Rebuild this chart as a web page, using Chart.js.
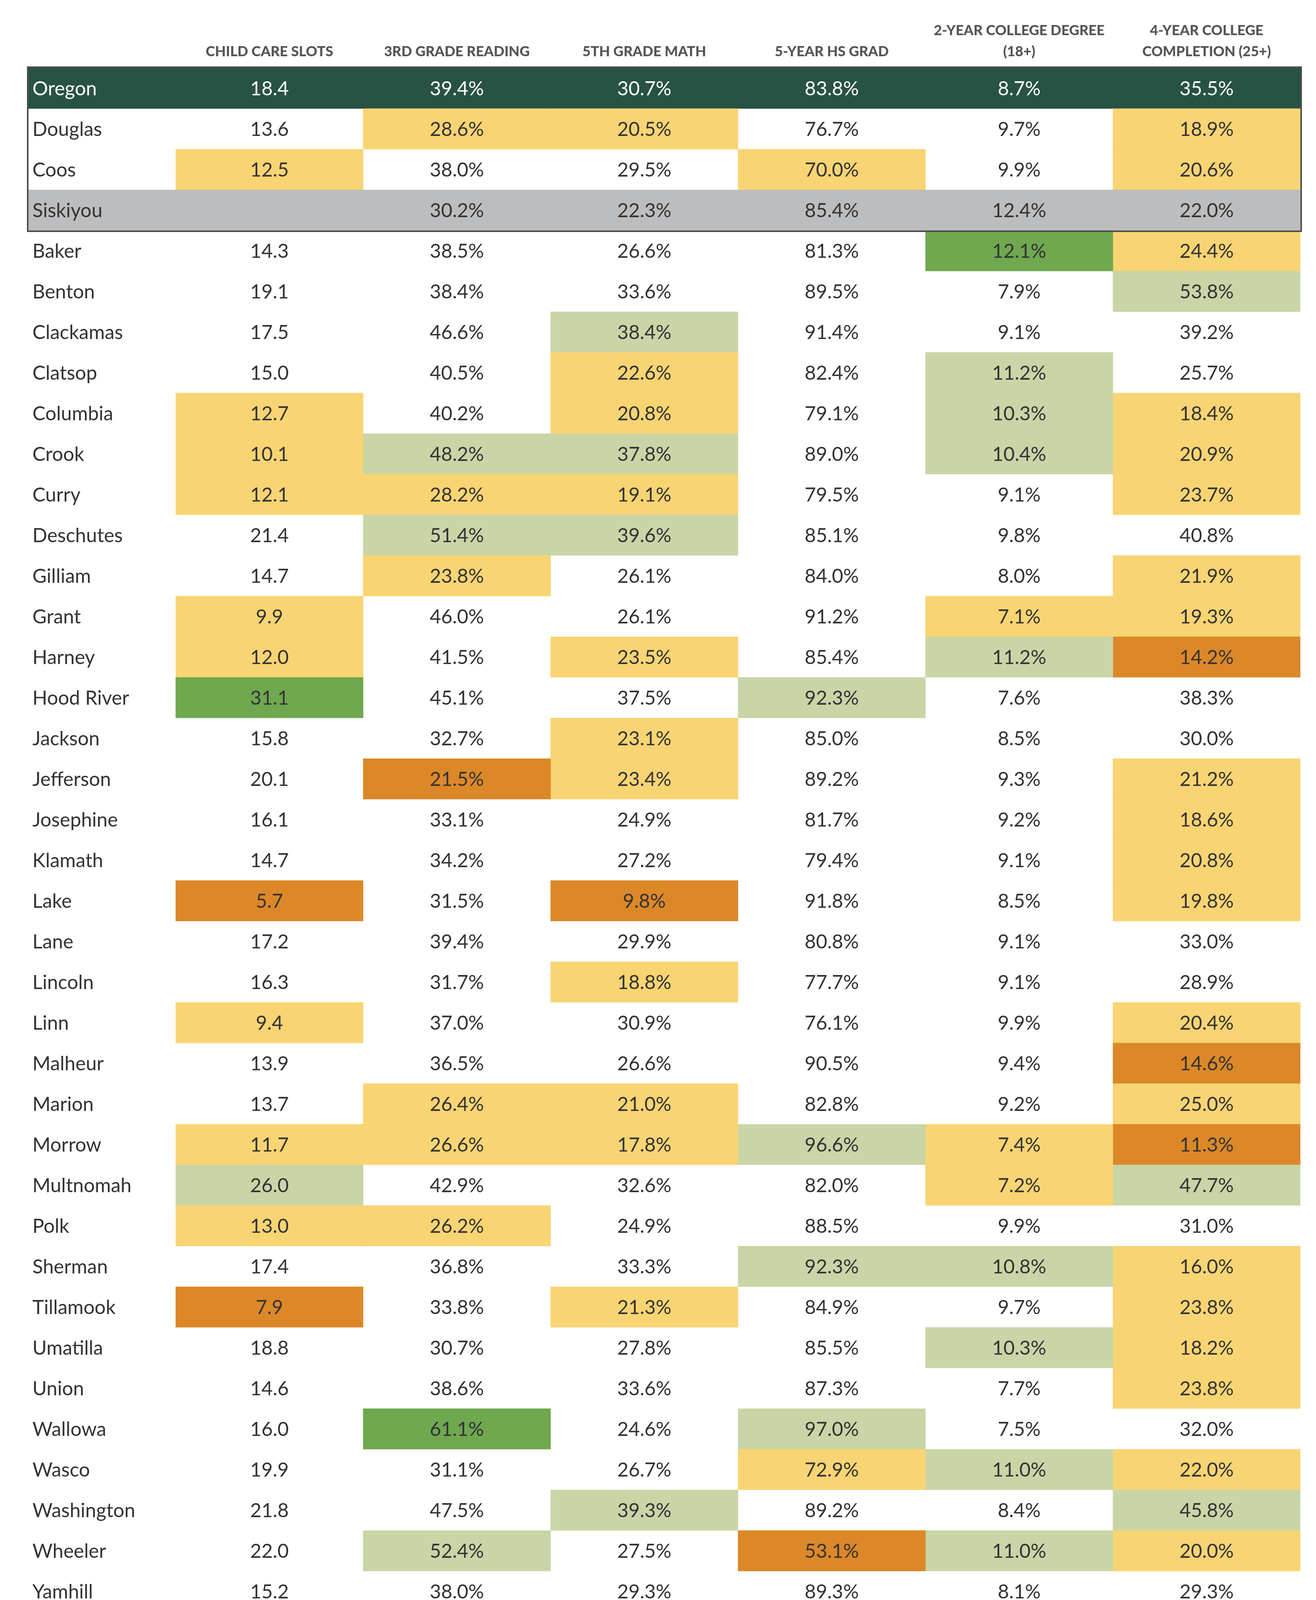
<!DOCTYPE html>
<html>
<head>
<meta charset="utf-8">
<script src="https://cdn.jsdelivr.net/npm/chart.js@4.4.1/dist/chart.umd.min.js"></script>
<style>
  html, body { margin: 0; padding: 0; background: #ffffff; }
  canvas { display: block; }
</style>
</head>
<body>
<canvas id="c" width="3370" height="4170" style="width:3370px;height:4170px"></canvas>
<script>
// ---------------- DATA ----------------
const counties = [
  'Oregon', 'Douglas', 'Coos', 'Siskiyou',
  'Baker', 'Benton', 'Clackamas', 'Clatsop', 'Columbia', 'Crook', 'Curry', 'Deschutes', 'Gilliam', 'Grant',
  'Harney', 'Hood River', 'Jackson', 'Jefferson', 'Josephine', 'Klamath', 'Lake', 'Lane', 'Lincoln', 'Linn',
  'Malheur', 'Marion', 'Morrow', 'Multnomah', 'Polk', 'Sherman', 'Tillamook', 'Umatilla', 'Union', 'Wallowa',
  'Wasco', 'Washington', 'Wheeler', 'Yamhill'
];

const columnTitles = [
  ['CHILD CARE SLOTS'],
  ['3RD GRADE READING'],
  ['5TH GRADE MATH'],
  ['5-YEAR HS GRAD'],
  ['2-YEAR COLLEGE DEGREE', '(18+)'],
  ['4-YEAR COLLEGE', 'COMPLETION (25+)']
];

const childCare = [
  18.4, 13.6, 12.5, null,
  14.3, 19.1, 17.5, 15.0, 12.7, 10.1, 12.1, 21.4, 14.7, 9.9,
  12.0, 31.1, 15.8, 20.1, 16.1, 14.7, 5.7, 17.2, 16.3, 9.4,
  13.9, 13.7, 11.7, 26.0, 13.0, 17.4, 7.9, 18.8, 14.6, 16.0,
  19.9, 21.8, 22.0, 15.2
];
const reading3 = [
  39.4, 28.6, 38.0, 30.2,
  38.5, 38.4, 46.6, 40.5, 40.2, 48.2, 28.2, 51.4, 23.8, 46.0,
  41.5, 45.1, 32.7, 21.5, 33.1, 34.2, 31.5, 39.4, 31.7, 37.0,
  36.5, 26.4, 26.6, 42.9, 26.2, 36.8, 33.8, 30.7, 38.6, 61.1,
  31.1, 47.5, 52.4, 38.0
];
const math5 = [
  30.7, 20.5, 29.5, 22.3,
  26.6, 33.6, 38.4, 22.6, 20.8, 37.8, 19.1, 39.6, 26.1, 26.1,
  23.5, 37.5, 23.1, 23.4, 24.9, 27.2, 9.8, 29.9, 18.8, 30.9,
  26.6, 21.0, 17.8, 32.6, 24.9, 33.3, 21.3, 27.8, 33.6, 24.6,
  26.7, 39.3, 27.5, 29.3
];
const hsGrad = [
  83.8, 76.7, 70.0, 85.4,
  81.3, 89.5, 91.4, 82.4, 79.1, 89.0, 79.5, 85.1, 84.0, 91.2,
  85.4, 92.3, 85.0, 89.2, 81.7, 79.4, 91.8, 80.8, 77.7, 76.1,
  90.5, 82.8, 96.6, 82.0, 88.5, 92.3, 84.9, 85.5, 87.3, 97.0,
  72.9, 89.2, 53.1, 89.3
];
const college2 = [
  8.7, 9.7, 9.9, 12.4,
  12.1, 7.9, 9.1, 11.2, 10.3, 10.4, 9.1, 9.8, 8.0, 7.1,
  11.2, 7.6, 8.5, 9.3, 9.2, 9.1, 8.5, 9.1, 9.1, 9.9,
  9.4, 9.2, 7.4, 7.2, 9.9, 10.8, 9.7, 10.3, 7.7, 7.5,
  11.0, 8.4, 11.0, 8.1
];
const college4 = [
  35.5, 18.9, 20.6, 22.0,
  24.4, 53.8, 39.2, 25.7, 18.4, 20.9, 23.7, 40.8, 21.9, 19.3,
  14.2, 38.3, 30.0, 21.2, 18.6, 20.8, 19.8, 33.0, 28.9, 20.4,
  14.6, 25.0, 11.3, 47.7, 31.0, 16.0, 23.8, 18.2, 23.8, 32.0,
  22.0, 45.8, 20.0, 29.3
];

// colour tiers: Y = below, O = far below, L = above, G = far above, - = none
const childCareTier = [
  '-','-','Y','-',
  '-','-','-','-','Y','Y','Y','-','-','Y',
  'Y','G','-','-','-','-','O','-','-','Y',
  '-','-','Y','L','Y','-','O','-','-','-',
  '-','-','-','-'
];
const reading3Tier = [
  '-','Y','-','-',
  '-','-','-','-','-','L','Y','L','Y','-',
  '-','-','-','O','-','-','-','-','-','-',
  '-','Y','Y','-','Y','-','-','-','-','G',
  '-','-','L','-'
];
const math5Tier = [
  '-','Y','-','-',
  '-','-','L','Y','Y','L','Y','L','-','-',
  'Y','-','Y','Y','-','-','O','-','Y','-',
  '-','Y','Y','-','-','-','Y','-','-','-',
  '-','L','-','-'
];
const hsGradTier = [
  '-','-','Y','-',
  '-','-','-','-','-','-','-','-','-','-',
  '-','L','-','-','-','-','-','-','-','-',
  '-','-','L','-','-','L','-','-','-','L',
  'Y','-','O','-'
];
const college2Tier = [
  '-','-','-','-',
  'G','-','-','L','L','L','-','-','-','Y',
  'L','-','-','-','-','-','-','-','-','-',
  '-','-','Y','Y','-','L','-','L','-','-',
  'L','-','L','-'
];
const college4Tier = [
  '-','Y','Y','-',
  'Y','L','-','-','Y','Y','Y','-','Y','Y',
  'O','-','-','Y','Y','Y','Y','-','-','Y',
  'O','Y','O','L','-','Y','Y','Y','Y','-',
  'Y','L','Y','-'
];

const highlightRows = { 'Oregon': 'state', 'Siskiyou': 'ref' };
const boxedRows = ['Oregon', 'Douglas', 'Coos', 'Siskiyou'];

// ---------------- STYLE ----------------
const palette = {
  'Y': '#f9d473',
  'O': '#dc8828',
  'L': '#c9d5a7',
  'G': '#6fa84f',
  '-': 'rgba(255,255,255,0)',
  'state': '#285244',
  'ref': '#bcbdbf'
};

const metrics = [
  { values: childCare, tiers: childCareTier, unit: '' },
  { values: reading3, tiers: reading3Tier, unit: '%' },
  { values: math5, tiers: math5Tier, unit: '%' },
  { values: hsGrad, tiers: hsGradTier, unit: '%' },
  { values: college2, tiers: college2Tier, unit: '%' },
  { values: college4, tiers: college4Tier, unit: '%' }
];

const nameColStart = -377 / 480; // width of the name column relative to a value column

function cellColor(rowIdx, tier) {
  const h = highlightRows[counties[rowIdx]];
  return h ? palette[h] : palette[tier];
}

const datasets = metrics.map((m, j) => ({
  label: columnTitles[j].join(' '),
  data: counties.map(() => [j, j + 1]),
  backgroundColor: counties.map((c, i) => cellColor(i, m.tiers[i])),
  borderWidth: 0,
  grouped: false,
  barPercentage: 1,
  categoryPercentage: 1
}));
datasets.push({
  label: 'names',
  data: counties.map(() => [nameColStart, 0]),
  backgroundColor: counties.map((c, i) => cellColor(i, '-')),
  borderWidth: 0,
  grouped: false,
  barPercentage: 1,
  categoryPercentage: 1
});

const textPlugin = {
  id: 'cellText',
  afterDatasetsDraw(chart) {
    const { ctx, chartArea, scales: { x, y } } = chart;
    ctx.save();
    // column headers
    ctx.fillStyle = '#555555';
    ctx.font = '900 36px Lato, "Liberation Sans Narrow", sans-serif';
    ctx.textAlign = 'center';
    ctx.textBaseline = 'alphabetic';
    columnTitles.forEach((lines, j) => {
      const cx = x.getPixelForValue(j + 0.5);
      const n = lines.length;
      lines.forEach((t, k) => {
        ctx.fillText(t, cx, chartArea.top - 30 - (n - 1 - k) * 54);
      });
    });
    // cell texts
    counties.forEach((name, i) => {
      const base = y.getPixelForValue(i) + 18;
      ctx.fillStyle = highlightRows[name] === 'state' ? '#ffffff' : '#333333';
      ctx.font = '50px Lato, sans-serif';
      ctx.textAlign = 'left';
      ctx.fillText(name, x.getPixelForValue(nameColStart) + 10, base);
      ctx.textAlign = 'center';
      metrics.forEach((m, j) => {
        const v = m.values[i];
        if (v === null || v === undefined) return;
        ctx.fillText(v.toFixed(1) + m.unit, x.getPixelForValue(j + 0.5), base);
      });
    });
    // box around the comparison rows
    const first = counties.indexOf(boxedRows[0]);
    const last = counties.indexOf(boxedRows[boxedRows.length - 1]);
    const band = y.getPixelForValue(1) - y.getPixelForValue(0);
    const top = y.getPixelForValue(first) - band / 2;
    const bottom = y.getPixelForValue(last) + band / 2;
    ctx.strokeStyle = '#4d4d4d';
    ctx.lineWidth = 4;
    ctx.strokeRect(chartArea.left - 2, top - 2, chartArea.right - chartArea.left + 4, bottom - top + 4);
    ctx.restore();
  }
};

new Chart(document.getElementById('c'), {
  type: 'bar',
  data: { labels: counties, datasets },
  options: {
    indexAxis: 'y',
    responsive: false,
    devicePixelRatio: 1,
    animation: false,
    layout: { padding: { left: 73, right: 40, top: 174, bottom: 44 } },
    plugins: { legend: { display: false }, tooltip: { enabled: false } },
    scales: {
      x: { type: 'linear', display: false, min: nameColStart, max: metrics.length, grid: { display: false } },
      y: { type: 'category', display: false, grid: { display: false } }
    }
  },
  plugins: [textPlugin]
});
</script>
</body>
</html>
